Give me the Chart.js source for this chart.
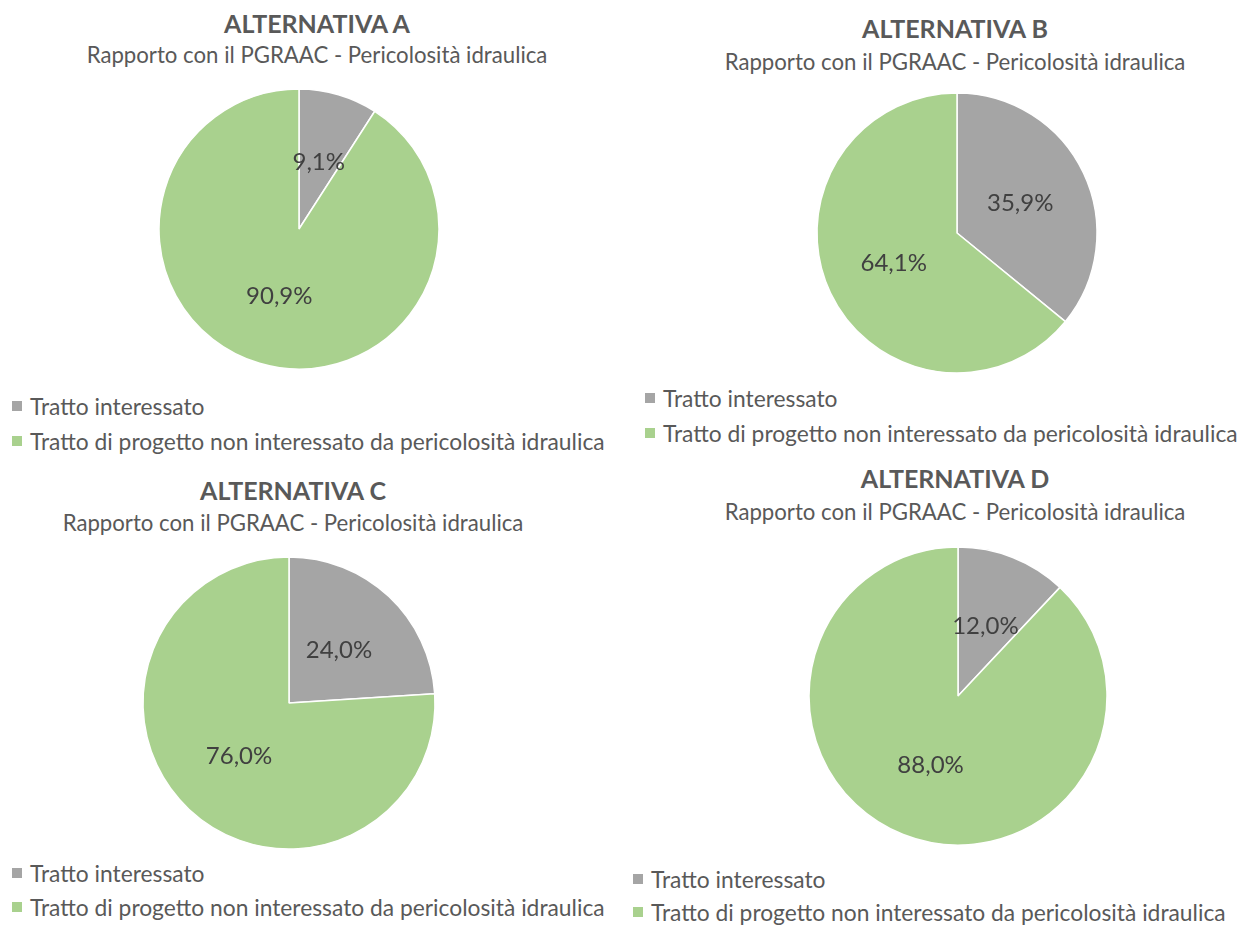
<!DOCTYPE html>
<html>
<head>
<meta charset="utf-8">
<title>Rapporto con il PGRAAC - Pericolosità idraulica</title>
<script src="https://cdn.jsdelivr.net/npm/chart.js@4.4.1/dist/chart.umd.min.js"></script>
<style>
  html, body { margin: 0; padding: 0; background: #fff; overflow: hidden; }
  body { position: relative; width: 1254px; height: 925px; font-family: Lato, "Open Sans", sans-serif; color: #595959; }
  .title, .subtitle { position: absolute; width: 600px; text-align: center; white-space: nowrap; }
  .title { font-size: 25px; font-weight: bold; line-height: 30px; }
  .subtitle { font-size: 22.2px; line-height: 26px; }
  canvas { position: absolute; }
  .legend { position: absolute; margin: 0; padding: 0; list-style: none; font-size: 22.8px; white-space: nowrap; }
  .legend li { display: flex; align-items: center; height: 24px; line-height: 24px; }
  .legend .box { display: inline-block; width: 10px; height: 10px; margin-right: 8px; }
</style>
</head>
<body>
<script>
const categories = ["Tratto interessato", "Tratto di progetto non interessato da pericolosità idraulica"];
const alternatives = ["ALTERNATIVA A", "ALTERNATIVA B", "ALTERNATIVA C", "ALTERNATIVA D"];
const subtitleText = "Rapporto con il PGRAAC - Pericolosità idraulica";
const trattoInteressato = [9.1, 35.9, 24.0, 12.0];
const trattoNonInteressato = [90.9, 64.1, 76.0, 88.0];

const sliceColors = ["#A5A5A5", "#A9D18E"];

// page placement of each chart: title centre, pie centre/radius, legend start
const panels = [
  { titleX: 317, titleY: 22.5, subY: 55, cx: 299, cy: 229, r: 140, legendX: 12, legendY: 406, legendGap: 35 },
  { titleX: 955, titleY: 28, subY: 62, cx: 957, cy: 233, r: 140, legendX: 645, legendY: 398, legendGap: 35 },
  { titleX: 293, titleY: 490, subY: 523, cx: 288.5, cy: 703, r: 146, legendX: 12, legendY: 873, legendGap: 34 },
  { titleX: 955, titleY: 478, subY: 512, cx: 958, cy: 696, r: 149, legendX: 633, legendY: 879, legendGap: 33 },
];

// percentage written in the middle of each slice
const sliceLabels = {
  id: "sliceLabels",
  afterDatasetsDraw(chart) {
    const { ctx } = chart;
    const values = chart.data.datasets[0].data;
    const total = values.reduce((a, b) => a + b, 0);
    ctx.save();
    ctx.font = "24px Lato, 'Open Sans', sans-serif";
    ctx.fillStyle = "#404040";
    ctx.textAlign = "center";
    ctx.textBaseline = "middle";
    chart.getDatasetMeta(0).data.forEach((arc, i) => {
      const { x, y } = arc.getCenterPoint();
      const pct = ((values[i] / total) * 100).toFixed(1).replace(".", ",") + "%";
      ctx.fillText(pct, x, y);
    });
    ctx.restore();
  },
};

// legend as an html list, one item per line
const htmlLegend = {
  id: "htmlLegend",
  afterUpdate(chart, args, options) {
    const list = options.container;
    list.innerHTML = "";
    const items = Chart.overrides.pie.plugins.legend.labels.generateLabels(chart);
    items.forEach((item, i) => {
      const li = document.createElement("li");
      if (i > 0) li.style.marginTop = options.gap - 24 + "px";
      const box = document.createElement("span");
      box.className = "box";
      box.style.background = item.fillStyle;
      li.appendChild(box);
      li.appendChild(document.createTextNode(item.text));
      list.appendChild(li);
    });
  },
};

function addText(className, text, x, y, lineHeight) {
  const el = document.createElement("div");
  el.className = className;
  el.textContent = text;
  el.style.left = x - 300 + "px";
  el.style.top = y - lineHeight / 2 + "px";
  document.body.appendChild(el);
}

panels.forEach((p, i) => {
  addText("title", alternatives[i], p.titleX, p.titleY, 30);
  addText("subtitle", subtitleText, p.titleX, p.subY, 26);

  const size = 2 * p.r + 10;
  const canvas = document.createElement("canvas");
  canvas.width = size;
  canvas.height = size;
  canvas.style.left = p.cx - size / 2 + "px";
  canvas.style.top = p.cy - size / 2 + "px";
  document.body.appendChild(canvas);

  const legendList = document.createElement("ul");
  legendList.className = "legend";
  legendList.style.left = p.legendX + "px";
  legendList.style.top = p.legendY - 12 + "px";
  document.body.appendChild(legendList);

  new Chart(canvas, {
    type: "pie",
    data: {
      labels: categories,
      datasets: [
        {
          data: [trattoInteressato[i], trattoNonInteressato[i]],
          backgroundColor: sliceColors,
          borderColor: "#ffffff",
          borderWidth: 1.5,
          radius: p.r,
        },
      ],
    },
    options: {
      responsive: false,
      animation: false,
      layout: { padding: 0 },
      plugins: {
        legend: { display: false },
        tooltip: { enabled: false },
        htmlLegend: { container: legendList, gap: p.legendGap },
      },
    },
    plugins: [sliceLabels, htmlLegend],
  });
});
</script>
</body>
</html>
